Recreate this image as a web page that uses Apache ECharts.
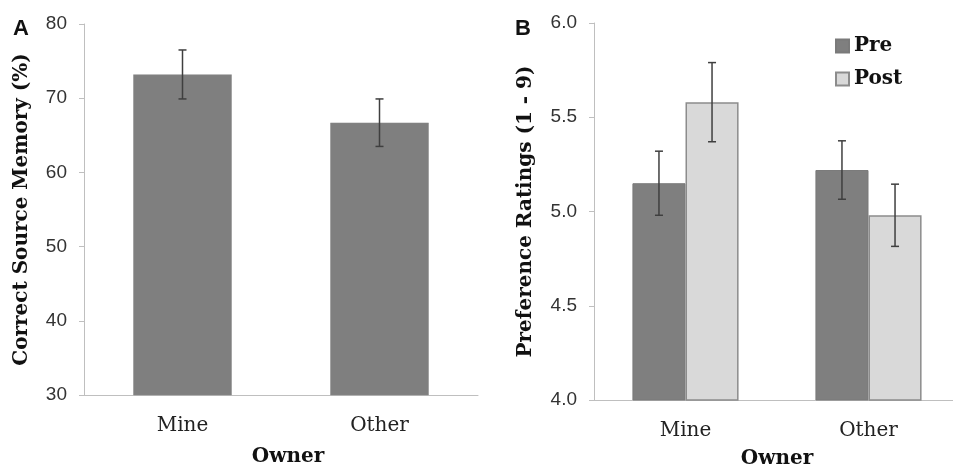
<!DOCTYPE html>
<html>
<head>
<meta charset="utf-8">
<script src="https://cdn.jsdelivr.net/npm/echarts@6/dist/echarts.min.js"></script>
<style>
html,body{margin:0;padding:0;background:#fff;overflow:hidden;}
#chart{width:953px;height:467px;}
</style>
</head>
<body>
<div id="chart"></div>
<script>
// ---- data ----
const categories = ['Mine', 'Other'];
// Panel A: correct source memory (%)
const memoryMean = [73.2, 66.7];
const memoryErr = [3.3, 3.2];
const memoryTicks = [30, 40, 50, 60, 70, 80];
// Panel B: preference ratings (1 - 9)
const seriesNames = ['Pre', 'Post'];
const preMean = [5.15, 5.22];
const preErr = [0.17, 0.155];
const postMean = [5.58, 4.98];
const postErr = [0.21, 0.165];
const ratingTicks = [4.0, 4.5, 5.0, 5.5, 6.0];

// ---- styles ----
const serif = 'DejaVu Serif';
const sans = 'Liberation Sans';
const axisGray = '#bfbfbf';
const darkBar = '#7f7f7f';
const lightBar = '#d9d9d9';
const errColor = '#3f3f3f';
const groupFrac = 0.58; // fraction of category used by grouped bars in B

function errData(means, errs) {
  return means.map((m, i) => [i, m - errs[i], m + errs[i]]);
}

function makeErrRender(shiftSign) {
  return function (params, api) {
    const xi = api.value(0);
    const lo = api.value(1);
    const hi = api.value(2);
    const pHi = api.coord([xi, hi]);
    const pLo = api.coord([xi, lo]);
    const band = api.size([1, 0])[0];
    const dx = shiftSign * band * groupFrac / 4;
    const x = pHi[0] + dx;
    const cap = 4;
    const style = { stroke: errColor, lineWidth: 1.5 };
    return {
      type: 'group',
      children: [
        { type: 'line', shape: { x1: x, y1: pHi[1], x2: x, y2: pLo[1] }, style: style },
        { type: 'line', shape: { x1: x - cap, y1: pHi[1], x2: x + cap, y2: pHi[1] }, style: style },
        { type: 'line', shape: { x1: x - cap, y1: pLo[1], x2: x + cap, y2: pLo[1] }, style: style }
      ]
    };
  };
}

const yLabel = { fontFamily: sans, fontSize: 19, color: '#333', margin: 17 };
const xLabel = { fontFamily: serif, fontSize: 20, color: '#222', margin: 21 };
const nameStyle = { fontFamily: serif, fontSize: 20, fontWeight: 'bold', color: '#111' };

const chart = echarts.init(document.getElementById('chart'), null, { renderer: 'canvas' });

const option = {
  animation: false,
  backgroundColor: '#ffffff',
  title: [
    { text: 'A', left: 8, top: 13, textStyle: { fontFamily: sans, fontSize: 22, fontWeight: 'bold', color: '#111' } },
    { text: 'B', left: 510, top: 13, textStyle: { fontFamily: sans, fontSize: 22, fontWeight: 'bold', color: '#111' } }
  ],
  legend: {
    data: seriesNames,
    orient: 'vertical',
    left: 830,
    top: 31,
    icon: 'rect',
    itemWidth: 13,
    itemHeight: 13,
    itemGap: 13,
    textStyle: { fontFamily: serif, fontSize: 20, fontWeight: 'bold', color: '#111' }
  },
  grid: [
    { left: 84, top: 24, width: 394, bottom: 72, containLabel: false, outerBoundsMode: 'none' },
    { left: 594, top: 23, width: 366, bottom: 67, containLabel: false, outerBoundsMode: 'none' }
  ],
  xAxis: [
    {
      type: 'category', gridIndex: 0, data: categories,
      axisLine: { lineStyle: { color: axisGray, width: 1 } },
      axisTick: { show: false },
      axisLabel: xLabel,
      name: 'Owner', nameLocation: 'middle', nameGap: 52,
      nameTextStyle: Object.assign({}, nameStyle, { padding: [0, 0, 0, 14] })
    },
    {
      type: 'category', gridIndex: 1, data: categories,
      axisLine: { lineStyle: { color: axisGray, width: 1 } },
      axisTick: { show: false },
      axisLabel: xLabel,
      name: 'Owner', nameLocation: 'middle', nameGap: 49, nameTextStyle: nameStyle
    }
  ],
  yAxis: [
    {
      type: 'value', gridIndex: 0,
      min: memoryTicks[0], max: memoryTicks[memoryTicks.length - 1], interval: 10,
      axisLine: { show: true, lineStyle: { color: axisGray, width: 1 } },
      axisTick: { show: true, length: 5, lineStyle: { color: axisGray } },
      splitLine: { show: false },
      axisLabel: yLabel,
      name: 'Correct Source Memory (%)', nameLocation: 'middle', nameGap: 52, nameTextStyle: nameStyle
    },
    {
      type: 'value', gridIndex: 1,
      min: ratingTicks[0], max: ratingTicks[ratingTicks.length - 1], interval: 0.5,
      axisLine: { show: true, lineStyle: { color: axisGray, width: 1 } },
      axisTick: { show: true, length: 5, lineStyle: { color: axisGray } },
      splitLine: { show: false },
      axisLabel: Object.assign({}, yLabel, { formatter: v => v.toFixed(1) }),
      name: 'Preference Ratings (1 - 9)', nameLocation: 'middle', nameGap: 58, nameTextStyle: nameStyle
    }
  ],
  series: [
    {
      type: 'bar', xAxisIndex: 0, yAxisIndex: 0, data: memoryMean,
      barWidth: '50%',
      itemStyle: { color: darkBar, borderColor: '#8a8a8a', borderWidth: 0.5 }
    },
    {
      type: 'custom', xAxisIndex: 0, yAxisIndex: 0,
      renderItem: makeErrRender(0), data: errData(memoryMean, memoryErr), z: 10
    },
    {
      name: seriesNames[0], type: 'bar', xAxisIndex: 1, yAxisIndex: 1, data: preMean,
      barGap: '0%', barCategoryGap: '42%',
      itemStyle: { color: darkBar, borderColor: '#7a7a7a', borderWidth: 1 }
    },
    {
      name: seriesNames[1], type: 'bar', xAxisIndex: 1, yAxisIndex: 1, data: postMean,
      barGap: '0%', barCategoryGap: '42%',
      itemStyle: { color: lightBar, borderColor: '#8c8c8c', borderWidth: 1.5 }
    },
    {
      type: 'custom', xAxisIndex: 1, yAxisIndex: 1,
      renderItem: makeErrRender(-1), data: errData(preMean, preErr), z: 10
    },
    {
      type: 'custom', xAxisIndex: 1, yAxisIndex: 1,
      renderItem: makeErrRender(1), data: errData(postMean, postErr), z: 10
    }
  ]
};

chart.setOption(option);
</script>
</body>
</html>
